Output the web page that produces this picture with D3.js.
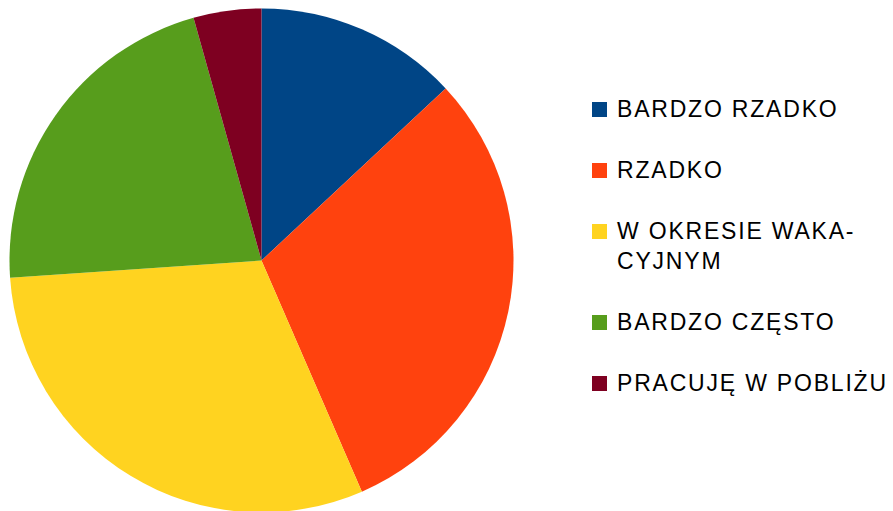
<!DOCTYPE html>
<html><head><meta charset="utf-8">
<script src="https://cdn.jsdelivr.net/npm/d3@7"></script>
<style>html,body{margin:0;padding:0;background:#fff;}svg{display:block;}</style>
</head><body>
<svg id="c" width="893" height="511"></svg>
<script>
const categories = ["BARDZO RZADKO", "RZADKO", "W OKRESIE WAKACYJNYM", "BARDZO CZĘSTO", "PRACUJĘ W POBLIŻU"];
const legendLines = [["BARDZO RZADKO"], ["RZADKO"], ["W OKRESIE WAKA-", "CYJNYM"], ["BARDZO CZĘSTO"], ["PRACUJĘ W POBLIŻU"]];
const values = [6, 14, 14, 10, 2];
const colors = ["#004586", "#ff420e", "#ffd320", "#579d1c", "#7e0021"];

const svg = d3.select("#c");
const cx = 261.5, cy = 260.5, r = 252;
const pie = d3.pie().sort(null).value(d => d.v);
const arc = d3.arc().innerRadius(0).outerRadius(r);
const data = categories.map((c, i) => ({c, v: values[i], col: colors[i]}));
svg.append("g").attr("transform", `translate(${cx},${cy})`)
  .selectAll("path").data(pie(data)).join("path")
  .attr("d", arc).attr("fill", d => d.data.col);

const lg = svg.append("g");
let y = 102;
legendLines.forEach((lines, i) => {
  lg.append("rect").attr("x", 592).attr("y", y).attr("width", 15).attr("height", 15).attr("fill", colors[i]);
  const t = lg.append("text").attr("x", 617).attr("y", y + 15)
    .attr("font-family", "Liberation Sans, Arial, sans-serif").attr("font-size", 23)
    .attr("letter-spacing", "1.8px").attr("fill", "#000");
  lines.forEach((ln, j) => {
    t.append("tspan").attr("x", 617).attr("dy", j === 0 ? 0 : 30).text(ln);
  });
  y += 61 + (lines.length - 1) * 30;
});
</script>
</body></html>
